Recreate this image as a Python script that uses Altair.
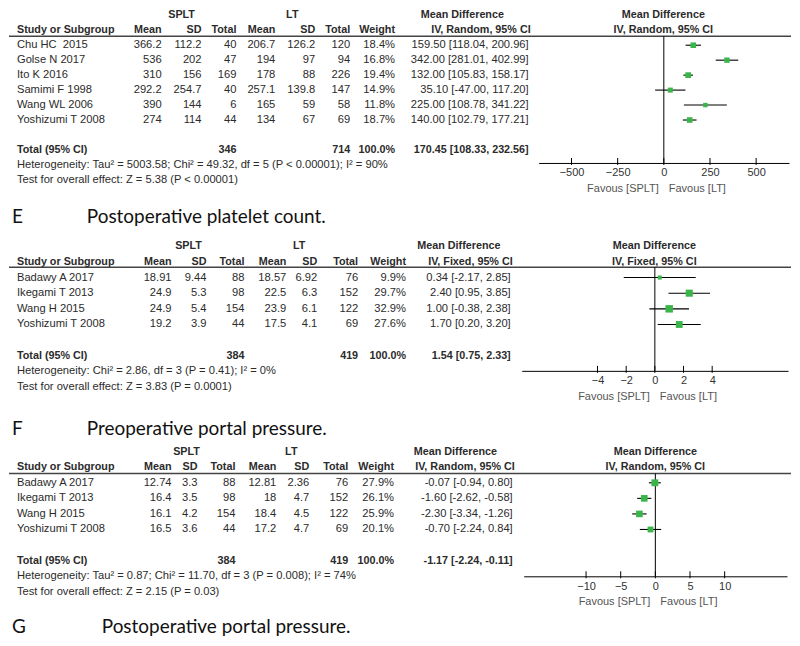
import altair as alt
import pandas as pd

FONT = "Liberation Sans"
TFONT = "Lato"
FS = 11.2
FSB = 10.8
TC = "#2b2b2b"
GREEN = "#3ab54a"
W = 784

# ---------------- data ----------------
p1_names = ["Chu HC \u00a02015", "Golse N 2017", "Ito K 2016", "Samimi F 1998", "Wang WL 2006", "Yoshizumi T 2008"]
p1_m1 = [366.2, 536, 310, 292.2, 390, 274]
p1_sd1 = [112.2, 202, 156, 254.7, 144, 114]
p1_n1 = [40, 47, 169, 40, 6, 44]
p1_m2 = [206.7, 194, 178, 257.1, 165, 134]
p1_sd2 = [126.2, 97, 88, 139.8, 59, 67]
p1_n2 = [120, 94, 226, 147, 58, 69]
p1_w = [18.4, 16.8, 19.4, 14.9, 11.8, 18.7]
p1_est = [159.50, 342.00, 132.00, 35.10, 225.00, 140.00]
p1_lo = [118.04, 281.01, 105.83, -47.00, 108.78, 102.79]
p1_hi = [200.96, 402.99, 158.17, 117.20, 341.22, 177.21]
p1_total = [346, 714, 170.45, 108.33, 232.56]
p1_het = "Heterogeneity: Tau\u00b2 = 5003.58; Chi\u00b2 = 49.32, df = 5 (P < 0.00001); I\u00b2 = 90%"
p1_test = "Test for overall effect: Z = 5.38 (P < 0.00001)"
p1_ticks = [-500, -250, 0, 250, 500]

p2_names = ["Badawy A 2017", "Ikegami T 2013", "Wang H 2015", "Yoshizumi T 2008"]
p2_m1 = [18.91, 24.9, 24.9, 19.2]
p2_sd1 = [9.44, 5.3, 5.4, 3.9]
p2_n1 = [88, 98, 154, 44]
p2_m2 = [18.57, 22.5, 23.9, 17.5]
p2_sd2 = [6.92, 6.3, 6.1, 4.1]
p2_n2 = [76, 152, 122, 69]
p2_w = [9.9, 29.7, 32.9, 27.6]
p2_est = [0.34, 2.40, 1.00, 1.70]
p2_lo = [-2.17, 0.95, -0.38, 0.20]
p2_hi = [2.85, 3.85, 2.38, 3.20]
p2_total = [384, 419, 1.54, 0.75, 2.33]
p2_het = "Heterogeneity: Chi\u00b2 = 2.86, df = 3 (P = 0.41); I\u00b2 = 0%"
p2_test = "Test for overall effect: Z = 3.83 (P = 0.0001)"
p2_ticks = [-4, -2, 0, 2, 4]

p3_names = ["Badawy A 2017", "Ikegami T 2013", "Wang H 2015", "Yoshizumi T 2008"]
p3_m1 = [12.74, 16.4, 16.1, 16.5]
p3_sd1 = [3.3, 3.5, 4.2, 3.6]
p3_n1 = [88, 98, 154, 44]
p3_m2 = [12.81, 18, 18.4, 17.2]
p3_sd2 = [2.36, 4.7, 4.5, 4.7]
p3_n2 = [76, 152, 122, 69]
p3_w = [27.9, 26.1, 25.9, 20.1]
p3_est = [-0.07, -1.60, -2.30, -0.70]
p3_lo = [-0.94, -2.62, -3.34, -2.24]
p3_hi = [0.80, -0.58, -1.26, 0.84]
p3_total = [384, 419, -1.17, -2.24, -0.11]
p3_het = "Heterogeneity: Tau\u00b2 = 0.87; Chi\u00b2 = 11.70, df = 3 (P = 0.008); I\u00b2 = 74%"
p3_test = "Test for overall effect: Z = 2.15 (P = 0.03)"
p3_ticks = [-10, -5, 0, 5, 10]

titles = [("E", "Postoperative platelet count."),
          ("F", "Preoperative portal pressure."),
          ("G", "Postoperative portal pressure.")]
methods = ["IV, Random, 95% CI", "IV, Fixed, 95% CI", "IV, Random, 95% CI"]


def build(names, m1, sd1, n1, m2, sd2, n2, w, est, lo, hi, total, het, test,
          ticks, method, title, lay):
    H, y0, step = lay["H"], lay["y0"], lay["step"]
    n = len(names)
    ysc = alt.Scale(domain=[-y0 / step, (H - y0) / step], range=[0, H], nice=False, zero=False)
    xsc = alt.Scale(domain=[-lay["D"], lay["D"]], range=[lay["x0"], lay["x1"]], nice=False, zero=False)
    r_line, r_axis, r_total = lay["r_line"], lay["r_axis"], n + 3
    r_het, r_test = r_total + 1, r_total + 2
    yaxis_px = y0 + r_axis * step
    AX = alt.Axis(values=ticks, orient="bottom", offset=-(H - yaxis_px), ticks=False, tickSize=0,
                  domain=True, domainColor="black", domainWidth=1, labelFont=FONT,
                  labelFontSize=11, labelColor="#333", labelPadding=4, title=None, grid=False,
                  format="d", labelFlush=False)
    Y = alt.Y("r:Q", scale=ysc, axis=None)

    df = pd.DataFrame({
        "r": list(range(2, 2 + n)), "study": names,
        "m1": [str(v) for v in m1], "sd1": [str(v) for v in sd1], "n1": [str(v) for v in n1],
        "m2": [str(v) for v in m2], "sd2": [str(v) for v in sd2], "n2": [str(v) for v in n2],
        "wt": [f"{v:.1f}%" for v in w],
        "ci": [f"{e:.2f} [{a:.2f}, {b:.2f}]" for e, a, b in zip(est, lo, hi)],
        "est": est, "lo": lo, "hi": hi, "w": w,
    })

    def one(r, t):
        return pd.DataFrame({"r": [r], "t": [t]})

    def txt(data, field, x, align="right", bold=False, size=None, color=TC, font=FONT):
        if size is None:
            size = FSB if bold else FS
        return alt.Chart(data).mark_text(
            align=align, baseline="middle", font=font, fontSize=size,
            fontWeight="bold" if bold else "normal", color=color
        ).encode(x=alt.value(x), y=Y, text=alt.Text(f"{field}:N"))

    c = lay["cols"]
    layers = []
    layers.append(txt(one(0, "SPLT"), "t", c["splt"], "center", True))
    layers.append(txt(one(0, "LT"), "t", c["lt"], "center", True))
    layers.append(txt(one(0, "Mean Difference"), "t", c["mdh"], "center", True))
    layers.append(txt(one(0, "Mean Difference"), "t", c["fh"], "center", True))
    layers.append(txt(one(1, "Study or Subgroup"), "t", c["study"], "left", True))
    for key, lab in [("m1", "Mean"), ("sd1", "SD"), ("n1", "Total"), ("m2", "Mean"),
                     ("sd2", "SD"), ("n2", "Total"), ("wt", "Weight")]:
        layers.append(txt(one(1, lab), "t", c[key], "right", True))
    layers.append(txt(one(1, method), "t", c["cih"], "right", True))
    layers.append(txt(one(1, method), "t", c["fh"], "center", True))
    layers.append(alt.Chart(one(r_line, "")).mark_rule(color="#444", strokeWidth=1.4).encode(
        x=alt.value(0), x2=alt.value(W), y=Y))
    layers.append(txt(df, "study", c["study"], "left"))
    for key in ["m1", "sd1", "n1", "m2", "sd2", "n2", "wt"]:
        layers.append(txt(df, key, c[key], "right"))
    layers.append(txt(df, "ci", c["ci"], "right"))
    tot_ci = f"{total[2]:.2f} [{total[3]:.2f}, {total[4]:.2f}]"
    layers.append(txt(one(r_total, "Total (95% CI)"), "t", c["study"], "left", True))
    layers.append(txt(one(r_total, str(total[0])), "t", c["n1"], "right", True))
    layers.append(txt(one(r_total, str(total[1])), "t", c["n2"], "right", True))
    layers.append(txt(one(r_total, "100.0%"), "t", c["wt"], "right", True))
    layers.append(txt(one(r_total, tot_ci), "t", c["ci"], "right", True))
    layers.append(txt(one(r_het, het), "t", c["study"], "left"))
    layers.append(txt(one(r_test, test), "t", c["study"], "left"))
    layers.append(txt(one(lay["r_title"], title[0]), "t", 3, "left", False, lay["tfs"], "#111", TFONT))
    layers.append(txt(one(lay["r_title"], title[1]), "t", lay["tx"], "left", False, lay["tfs"], "#111", TFONT))

    zl = pd.DataFrame({"x": [0], "r": [r_line], "r2": [r_axis]})
    layers.append(alt.Chart(zl).mark_rule(color="black", strokeWidth=1).encode(
        x=alt.X("x:Q", scale=xsc, axis=AX), y=Y, y2="r2:Q"))
    tk = pd.DataFrame({"x": ticks, "r": [r_axis] * len(ticks), "r2": [r_axis] * len(ticks)})
    layers.append(alt.Chart(tk).mark_rule(color="black", strokeWidth=1, yOffset=-5, y2Offset=2).encode(
        x=alt.X("x:Q", scale=xsc, axis=AX), y=Y, y2="r2:Q"))
    layers.append(alt.Chart(df).mark_rule(color="black", strokeWidth=1.1).encode(
        x=alt.X("lo:Q", scale=xsc, axis=AX), x2="hi:Q", y=Y))
    layers.append(alt.Chart(df).mark_square(color=GREEN, opacity=1, filled=True).encode(
        x=alt.X("est:Q", scale=xsc, axis=AX), y=Y,
        size=alt.Size("w:Q", scale=alt.Scale(domain=[0, 100], range=[0, 170]), legend=None)))
    h = 0.3
    dia = pd.DataFrame({"x": [total[3], total[2], total[4]],
                        "r": [r_total, r_total - h, r_total],
                        "r2": [r_total, r_total + h, r_total]})
    layers.append(alt.Chart(dia).mark_area(color="black", opacity=1, interpolate="linear").encode(
        x=alt.X("x:Q", scale=xsc, axis=AX), y=Y, y2="r2:Q", order="x:Q"))
    fav = pd.DataFrame({"x": [0], "r": [lay["r_fav"]]})
    layers.append(alt.Chart(fav).mark_text(align="right", dx=-5, font=FONT, fontSize=11, color="#555",
                                           text="Favous [SPLT]").encode(
        x=alt.X("x:Q", scale=xsc, axis=AX), y=Y))
    layers.append(alt.Chart(fav).mark_text(align="left", dx=5, font=FONT, fontSize=11, color="#555",
                                           text="Favous [LT]").encode(
        x=alt.X("x:Q", scale=xsc, axis=AX), y=Y))

    return alt.layer(*layers).properties(width=W, height=H)


lay1 = dict(H=224, y0=4.5, step=15.0, D=678, x0=531, x1=782, r_line=1.4, r_axis=9.87,
            r_fav=11.6, r_title=13.5, tfs=19, tx=78,
            cols=dict(study=8, m1=153, sd1=193, n1=228, m2=267, sd2=307, n2=342, wt=387,
                      ci=521, cih=523, mdh=454.5, splt=173, lt=284, fh=656))
lay2 = dict(H=206, y0=12, step=15.7, D=9.29, x0=514, x1=781, r_line=1.34, r_axis=7.96,
            r_fav=9.62, r_title=11.66, tfs=19, tx=78,
            cols=dict(study=8, m1=163, sd1=198, n1=236, m2=278, sd2=309, n2=350, wt=398,
                      ci=503, cih=505, mdh=451, splt=180, lt=291, fh=647))
lay3 = dict(H=197, y0=12, step=15.6, D=19, x0=516, x1=780, r_line=1.4, r_axis=8.01,
            r_fav=9.68, r_title=11.3, tfs=19, tx=93,
            cols=dict(study=8, m1=163, sd1=189, n1=227, m2=268, sd2=301, n2=340, wt=386,
                      ci=505, cih=507, mdh=447.5, splt=178, lt=283, fh=648))

c1 = build(p1_names, p1_m1, p1_sd1, p1_n1, p1_m2, p1_sd2, p1_n2, p1_w, p1_est, p1_lo, p1_hi,
           p1_total, p1_het, p1_test, p1_ticks, methods[0], titles[0], lay1)
c2 = build(p2_names, p2_m1, p2_sd1, p2_n1, p2_m2, p2_sd2, p2_n2, p2_w, p2_est, p2_lo, p2_hi,
           p2_total, p2_het, p2_test, p2_ticks, methods[1], titles[1], lay2)
c3 = build(p3_names, p3_m1, p3_sd1, p3_n1, p3_m2, p3_sd2, p3_n2, p3_w, p3_est, p3_lo, p3_hi,
           p3_total, p3_het, p3_test, p3_ticks, methods[2], titles[2], lay3)

chart = alt.vconcat(c1, c2, c3, spacing=0, bounds="flush").resolve_scale(
    x="independent", y="independent", size="independent"
).properties(padding={"left": 0, "top": 0, "right": 0, "bottom": 0}).configure(
    background="white", view=alt.ViewConfig(stroke=None)
)

chart.save("out.html", embed_options={"renderer": "svg", "actions": False})
